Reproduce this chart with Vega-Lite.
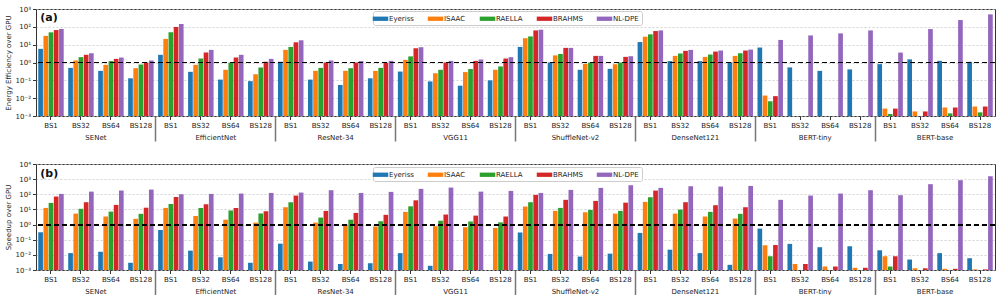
{
  "$schema": "https://vega.github.io/schema/vega-lite/v6.json",
  "padding": {"left": 3, "top": 4, "right": 3, "bottom": 2},
  "spacing": 16,
  "datasets": {
    "ee": [
      {"m":"SENet","k":"SENet|BS1","Eyeriss":5.8,"ISAAC":31,"RAELLA":49,"BRAHMS":66,"NL-DPE":76},
      {"m":"SENet","k":"SENet|BS32","Eyeriss":0.5,"ISAAC":1.3,"RAELLA":2.0,"BRAHMS":2.7,"NL-DPE":3.3},
      {"m":"SENet","k":"SENet|BS64","Eyeriss":0.34,"ISAAC":0.74,"RAELLA":1.2,"BRAHMS":1.6,"NL-DPE":1.9},
      {"m":"SENet","k":"SENet|BS128","Eyeriss":0.13,"ISAAC":0.48,"RAELLA":0.77,"BRAHMS":1.0,"NL-DPE":1.3},
      {"m":"EfficientNet","k":"EfficientNet|BS1","Eyeriss":2.7,"ISAAC":21,"RAELLA":49,"BRAHMS":97,"NL-DPE":144},
      {"m":"EfficientNet","k":"EfficientNet|BS32","Eyeriss":0.3,"ISAAC":0.74,"RAELLA":1.7,"BRAHMS":3.6,"NL-DPE":5.1},
      {"m":"EfficientNet","k":"EfficientNet|BS64","Eyeriss":0.11,"ISAAC":0.39,"RAELLA":0.96,"BRAHMS":1.9,"NL-DPE":2.7},
      {"m":"EfficientNet","k":"EfficientNet|BS128","Eyeriss":0.09,"ISAAC":0.22,"RAELLA":0.53,"BRAHMS":1.1,"NL-DPE":1.6},
      {"m":"ResNet-34","k":"ResNet-34|BS1","Eyeriss":1.1,"ISAAC":5.1,"RAELLA":7.5,"BRAHMS":13.6,"NL-DPE":17.6},
      {"m":"ResNet-34","k":"ResNet-34|BS32","Eyeriss":0.11,"ISAAC":0.34,"RAELLA":0.5,"BRAHMS":1.0,"NL-DPE":1.3},
      {"m":"ResNet-34","k":"ResNet-34|BS64","Eyeriss":0.055,"ISAAC":0.34,"RAELLA":0.48,"BRAHMS":1.0,"NL-DPE":1.2},
      {"m":"ResNet-34","k":"ResNet-34|BS128","Eyeriss":0.13,"ISAAC":0.34,"RAELLA":0.5,"BRAHMS":0.96,"NL-DPE":1.24},
      {"m":"VGG11","k":"VGG11|BS1","Eyeriss":0.31,"ISAAC":1.4,"RAELLA":2.2,"BRAHMS":6.3,"NL-DPE":7.2},
      {"m":"VGG11","k":"VGG11|BS32","Eyeriss":0.087,"ISAAC":0.25,"RAELLA":0.39,"BRAHMS":1.0,"NL-DPE":1.24},
      {"m":"VGG11","k":"VGG11|BS64","Eyeriss":0.05,"ISAAC":0.29,"RAELLA":0.43,"BRAHMS":1.24,"NL-DPE":1.47},
      {"m":"VGG11","k":"VGG11|BS128","Eyeriss":0.1,"ISAAC":0.39,"RAELLA":0.6,"BRAHMS":1.67,"NL-DPE":2.0},
      {"m":"ShuffleNet-v2","k":"ShuffleNet-v2|BS1","Eyeriss":7.5,"ISAAC":23,"RAELLA":29,"BRAHMS":63,"NL-DPE":69},
      {"m":"ShuffleNet-v2","k":"ShuffleNet-v2|BS32","Eyeriss":1.0,"ISAAC":2.5,"RAELLA":3.0,"BRAHMS":6.6,"NL-DPE":6.6},
      {"m":"ShuffleNet-v2","k":"ShuffleNet-v2|BS64","Eyeriss":0.39,"ISAAC":0.84,"RAELLA":1.0,"BRAHMS":2.35,"NL-DPE":2.35},
      {"m":"ShuffleNet-v2","k":"ShuffleNet-v2|BS128","Eyeriss":0.44,"ISAAC":0.8,"RAELLA":1.0,"BRAHMS":2.07,"NL-DPE":2.25},
      {"m":"DenseNet121","k":"DenseNet121|BS1","Eyeriss":14,"ISAAC":28,"RAELLA":38,"BRAHMS":58,"NL-DPE":63},
      {"m":"DenseNet121","k":"DenseNet121|BS32","Eyeriss":1.2,"ISAAC":2.35,"RAELLA":3.2,"BRAHMS":4.5,"NL-DPE":5.1},
      {"m":"DenseNet121","k":"DenseNet121|BS64","Eyeriss":1.2,"ISAAC":2.07,"RAELLA":2.8,"BRAHMS":4.1,"NL-DPE":4.7},
      {"m":"DenseNet121","k":"DenseNet121|BS128","Eyeriss":1.04,"ISAAC":2.35,"RAELLA":3.3,"BRAHMS":4.7,"NL-DPE":5.3},
      {"m":"BERT-tiny","k":"BERT-tiny|BS1","Eyeriss":6.9,"ISAAC":0.014,"RAELLA":0.0067,"BRAHMS":0.013,"NL-DPE":18.4},
      {"m":"BERT-tiny","k":"BERT-tiny|BS32","Eyeriss":0.53,"ISAAC":null,"RAELLA":null,"BRAHMS":null,"NL-DPE":33},
      {"m":"BERT-tiny","k":"BERT-tiny|BS64","Eyeriss":0.34,"ISAAC":null,"RAELLA":null,"BRAHMS":null,"NL-DPE":43},
      {"m":"BERT-tiny","k":"BERT-tiny|BS128","Eyeriss":0.41,"ISAAC":null,"RAELLA":null,"BRAHMS":null,"NL-DPE":63},
      {"m":"BERT-base","k":"BERT-base|BS1","Eyeriss":0.81,"ISAAC":0.0026,"RAELLA":0.0013,"BRAHMS":0.0026,"NL-DPE":3.6},
      {"m":"BERT-base","k":"BERT-base|BS32","Eyeriss":1.5,"ISAAC":0.0018,"RAELLA":null,"BRAHMS":0.0018,"NL-DPE":75},
      {"m":"BERT-base","k":"BERT-base|BS64","Eyeriss":1.24,"ISAAC":0.003,"RAELLA":0.0014,"BRAHMS":0.003,"NL-DPE":240},
      {"m":"BERT-base","k":"BERT-base|BS128","Eyeriss":1.09,"ISAAC":0.0034,"RAELLA":0.0016,"BRAHMS":0.0034,"NL-DPE":500}
    ],
    "sp": [
      {"m":"SENet","k":"SENet|BS1","Eyeriss":0.31,"ISAAC":12.6,"RAELLA":27,"BRAHMS":71,"NL-DPE":106},
      {"m":"SENet","k":"SENet|BS32","Eyeriss":0.013,"ISAAC":5.3,"RAELLA":11,"BRAHMS":30,"NL-DPE":150},
      {"m":"SENet","k":"SENet|BS64","Eyeriss":0.016,"ISAAC":3.4,"RAELLA":7.2,"BRAHMS":20,"NL-DPE":177},
      {"m":"SENet","k":"SENet|BS128","Eyeriss":0.003,"ISAAC":2.4,"RAELLA":5.1,"BRAHMS":13,"NL-DPE":205},
      {"m":"EfficientNet","k":"EfficientNet|BS1","Eyeriss":0.44,"ISAAC":12.6,"RAELLA":23,"BRAHMS":67,"NL-DPE":101},
      {"m":"EfficientNet","k":"EfficientNet|BS32","Eyeriss":0.019,"ISAAC":3.7,"RAELLA":12.6,"BRAHMS":22,"NL-DPE":106},
      {"m":"EfficientNet","k":"EfficientNet|BS64","Eyeriss":0.0069,"ISAAC":2.1,"RAELLA":8.4,"BRAHMS":12.6,"NL-DPE":112},
      {"m":"EfficientNet","k":"EfficientNet|BS128","Eyeriss":0.003,"ISAAC":1.35,"RAELLA":5.3,"BRAHMS":7.6,"NL-DPE":123},
      {"m":"ResNet-34","k":"ResNet-34|BS1","Eyeriss":0.055,"ISAAC":14,"RAELLA":30,"BRAHMS":82,"NL-DPE":130},
      {"m":"ResNet-34","k":"ResNet-34|BS32","Eyeriss":0.0036,"ISAAC":1.35,"RAELLA":2.9,"BRAHMS":8.0,"NL-DPE":186},
      {"m":"ResNet-34","k":"ResNet-34|BS64","Eyeriss":0.0025,"ISAAC":1.0,"RAELLA":2.1,"BRAHMS":5.9,"NL-DPE":123},
      {"m":"ResNet-34","k":"ResNet-34|BS128","Eyeriss":0.0028,"ISAAC":0.74,"RAELLA":1.66,"BRAHMS":4.4,"NL-DPE":144},
      {"m":"VGG11","k":"VGG11|BS1","Eyeriss":0.013,"ISAAC":6.9,"RAELLA":16,"BRAHMS":40,"NL-DPE":228},
      {"m":"VGG11","k":"VGG11|BS32","Eyeriss":0.0019,"ISAAC":0.78,"RAELLA":1.8,"BRAHMS":4.6,"NL-DPE":278},
      {"m":"VGG11","k":"VGG11|BS64","Eyeriss":null,"ISAAC":0.67,"RAELLA":1.6,"BRAHMS":3.9,"NL-DPE":150},
      {"m":"VGG11","k":"VGG11|BS128","Eyeriss":null,"ISAAC":0.6,"RAELLA":1.4,"BRAHMS":3.4,"NL-DPE":167},
      {"m":"ShuffleNet-v2","k":"ShuffleNet-v2|BS1","Eyeriss":0.3,"ISAAC":15.5,"RAELLA":30,"BRAHMS":91,"NL-DPE":123},
      {"m":"ShuffleNet-v2","k":"ShuffleNet-v2|BS32","Eyeriss":0.0115,"ISAAC":8.0,"RAELLA":12.6,"BRAHMS":43,"NL-DPE":195},
      {"m":"ShuffleNet-v2","k":"ShuffleNet-v2|BS64","Eyeriss":0.0077,"ISAAC":6.5,"RAELLA":9.3,"BRAHMS":36.6,"NL-DPE":265},
      {"m":"ShuffleNet-v2","k":"ShuffleNet-v2|BS128","Eyeriss":0.012,"ISAAC":5.3,"RAELLA":8.0,"BRAHMS":28,"NL-DPE":396},
      {"m":"DenseNet121","k":"DenseNet121|BS1","Eyeriss":0.28,"ISAAC":31.5,"RAELLA":64,"BRAHMS":176,"NL-DPE":265},
      {"m":"DenseNet121","k":"DenseNet121|BS32","Eyeriss":0.022,"ISAAC":5.3,"RAELLA":9.8,"BRAHMS":30,"NL-DPE":340},
      {"m":"DenseNet121","k":"DenseNet121|BS64","Eyeriss":0.013,"ISAAC":3.4,"RAELLA":6.9,"BRAHMS":19,"NL-DPE":325},
      {"m":"DenseNet121","k":"DenseNet121|BS128","Eyeriss":0.0022,"ISAAC":2.5,"RAELLA":5.1,"BRAHMS":14,"NL-DPE":356},
      {"m":"BERT-tiny","k":"BERT-tiny|BS1","Eyeriss":0.54,"ISAAC":0.043,"RAELLA":0.0081,"BRAHMS":0.045,"NL-DPE":43},
      {"m":"BERT-tiny","k":"BERT-tiny|BS32","Eyeriss":0.053,"ISAAC":0.0025,"RAELLA":null,"BRAHMS":0.0025,"NL-DPE":82},
      {"m":"BERT-tiny","k":"BERT-tiny|BS64","Eyeriss":0.032,"ISAAC":0.0017,"RAELLA":null,"BRAHMS":0.0017,"NL-DPE":112},
      {"m":"BERT-tiny","k":"BERT-tiny|BS128","Eyeriss":0.037,"ISAAC":0.0014,"RAELLA":null,"BRAHMS":0.0014,"NL-DPE":186},
      {"m":"BERT-base","k":"BERT-base|BS1","Eyeriss":0.02,"ISAAC":0.0081,"RAELLA":0.0017,"BRAHMS":0.0081,"NL-DPE":87},
      {"m":"BERT-base","k":"BERT-base|BS32","Eyeriss":0.0049,"ISAAC":0.0013,"RAELLA":null,"BRAHMS":0.0013,"NL-DPE":465},
      {"m":"BERT-base","k":"BERT-base|BS64","Eyeriss":0.013,"ISAAC":0.0012,"RAELLA":null,"BRAHMS":0.0012,"NL-DPE":850},
      {"m":"BERT-base","k":"BERT-base|BS128","Eyeriss":0.006,"ISAAC":0.0011,"RAELLA":null,"BRAHMS":0.0011,"NL-DPE":1550}
    ]
  },
  "vconcat": [
    {
      "width": 959,
      "height": 107,
      "data": {"name": "ee"},
      "transform": [{"fold": ["Eyeriss", "ISAAC", "RAELLA", "BRAHMS", "NL-DPE"], "as": ["s", "v"]}],
      "layer": [
        {
          "encoding": {
            "x": {"field": "k", "type": "nominal", "sort": null, "scale": {"paddingInner": 0.15, "paddingOuter": 0.075},
              "axis": {"title": null, "labelExpr": "split(datum.value, '|')[1]", "labelAngle": 0, "domain": false, "tickSize": 3.5, "labelPadding": 2, "grid": false}},
            "y": {"field": "v", "type": "quantitative", "scale": {"type": "log", "domain": [0.001, 1000]},
              "axis": {"title": "Energy Efficiency over GPU", "values": [0.001, 0.01, 0.1, 1, 10, 100, 1000],
                "labelExpr": "datum.value==1000?'10³':datum.value==100?'10²':datum.value==10?'10¹':datum.value==1?'10⁰':datum.value==0.1?'10⁻¹':datum.value==0.01?'10⁻²':'10⁻³'"}}
          },
          "layer": [
            {
              "mark": {"type": "bar"},
              "encoding": {
                "xOffset": {"field": "s", "type": "nominal", "scale": {"domain": ["Eyeriss", "ISAAC", "RAELLA", "BRAHMS", "NL-DPE"], "paddingInner": 0.1}},
                "y2": {"datum": 0.001},
                "color": {"field": "s", "type": "nominal", "scale": {"domain": ["Eyeriss", "ISAAC", "RAELLA", "BRAHMS", "NL-DPE"], "range": ["#1f77b4", "#ff7f0e", "#2ca02c", "#d62728", "#9467bd"]},
                  "legend": {"title": null, "orient": "none", "legendX": 337, "legendY": 2, "direction": "horizontal", "columns": 5}}
              }
            },
            {
              "transform": [{"filter": "datum.k === 'SENet|BS1' && datum.s === 'Eyeriss'"}],
              "mark": {"type": "text", "text": "(a)", "align": "left", "baseline": "middle", "dx": 2, "font": "DejaVu Sans", "fontSize": 11, "fontWeight": "bold", "color": "#111"},
              "encoding": {"x": {"field": "k", "type": "nominal", "bandPosition": 0}, "y": {"datum": 295}}
            }
          ]
        },
        {
          "mark": {"type": "rule", "strokeDash": [5, 3], "color": "black", "strokeWidth": 1.2},
          "encoding": {"y": {"datum": 1}}
        },
        {
          "mark": {"type": "rule", "opacity": 0},
          "encoding": {
            "x": {"field": "m", "type": "nominal", "sort": ["SENet", "EfficientNet", "ResNet-34", "VGG11", "ShuffleNet-v2", "DenseNet121", "BERT-tiny", "BERT-base"], "scale": {"paddingInner": 0, "paddingOuter": 0},
              "axis": {"orient": "bottom", "title": null, "labelAngle": 0, "domain": false, "grid": false, "bandPosition": 0, "tickSize": 25, "tickWidth": 1.5, "tickColor": "#777", "tickOpacity": {"condition": {"test": "datum.value === 'SENet'", "value": 0}, "value": 1}, "labelOffset": 0, "labelPadding": -8}}
          }
        }
      ],
      "resolve": {"scale": {"x": "independent"}}
    },
    {
      "width": 959,
      "height": 106,
      "data": {"name": "sp"},
      "transform": [{"fold": ["Eyeriss", "ISAAC", "RAELLA", "BRAHMS", "NL-DPE"], "as": ["s", "v"]}],
      "layer": [
        {
          "encoding": {
            "x": {"field": "k", "type": "nominal", "sort": null, "scale": {"paddingInner": 0.15, "paddingOuter": 0.075},
              "axis": {"title": null, "labelExpr": "split(datum.value, '|')[1]", "labelAngle": 0, "domain": false, "tickSize": 3.5, "labelPadding": 2, "grid": false}},
            "y": {"field": "v", "type": "quantitative", "scale": {"type": "log", "domain": [0.001, 10000]},
              "axis": {"title": "Speedup over GPU", "values": [0.001, 0.01, 0.1, 1, 10, 100, 1000, 10000],
                "labelExpr": "datum.value==10000?'10⁴':datum.value==1000?'10³':datum.value==100?'10²':datum.value==10?'10¹':datum.value==1?'10⁰':datum.value==0.1?'10⁻¹':datum.value==0.01?'10⁻²':'10⁻³'"}}
          },
          "layer": [
            {
              "mark": {"type": "bar"},
              "encoding": {
                "xOffset": {"field": "s", "type": "nominal", "scale": {"domain": ["Eyeriss", "ISAAC", "RAELLA", "BRAHMS", "NL-DPE"], "paddingInner": 0.1}},
                "y2": {"datum": 0.001},
                "color": {"field": "s", "type": "nominal", "scale": {"domain": ["Eyeriss", "ISAAC", "RAELLA", "BRAHMS", "NL-DPE"], "range": ["#1f77b4", "#ff7f0e", "#2ca02c", "#d62728", "#9467bd"]},
                  "legend": {"title": null, "orient": "none", "legendX": 337, "legendY": 3, "direction": "horizontal", "columns": 5}}
              }
            },
            {
              "transform": [{"filter": "datum.k === 'SENet|BS1' && datum.s === 'Eyeriss'"}],
              "mark": {"type": "text", "text": "(b)", "align": "left", "baseline": "middle", "dx": 2, "font": "DejaVu Sans", "fontSize": 11, "fontWeight": "bold", "color": "#111"},
              "encoding": {"x": {"field": "k", "type": "nominal", "bandPosition": 0}, "y": {"datum": 2350}}
            }
          ]
        },
        {
          "mark": {"type": "rule", "strokeDash": [5, 3], "color": "black", "strokeWidth": 1.2},
          "encoding": {"y": {"datum": 1}}
        },
        {
          "mark": {"type": "rule", "opacity": 0},
          "encoding": {
            "x": {"field": "m", "type": "nominal", "sort": ["SENet", "EfficientNet", "ResNet-34", "VGG11", "ShuffleNet-v2", "DenseNet121", "BERT-tiny", "BERT-base"], "scale": {"paddingInner": 0, "paddingOuter": 0},
              "axis": {"orient": "bottom", "title": null, "labelAngle": 0, "domain": false, "grid": false, "bandPosition": 0, "tickSize": 25, "tickWidth": 1.5, "tickColor": "#777", "tickOpacity": {"condition": {"test": "datum.value === 'SENet'", "value": 0}, "value": 1}, "labelOffset": 0, "labelPadding": -8}}
          }
        }
      ],
      "resolve": {"scale": {"x": "independent"}}
    }
  ],
  "resolve": {"legend": {"color": "independent"}, "scale": {"color": "independent"}},
  "config": {
    "view": {"stroke": "#333", "strokeWidth": 1},
    "axis": {"labelFont": "DejaVu Sans", "labelFontSize": 7, "labelColor": "#222", "tickColor": "#333", "titleFont": "DejaVu Sans", "titleFontSize": 7, "titleFontWeight": "normal", "titleColor": "#222", "titlePadding": 4},
    "axisY": {"grid": true, "gridColor": "#c8c8c8", "gridDash": [2, 2], "gridWidth": 0.8, "tickSize": 3.5, "labelPadding": 2, "domain": false},
    "legend": {"labelFont": "DejaVu Sans", "labelFontSize": 7, "labelColor": "#222", "symbolType": "M-1.8,-0.5L1.8,-0.5L1.8,0.5L-1.8,0.5Z", "symbolSize": 74, "symbolStrokeWidth": 0, "labelOffset": 4, "columnPadding": 13, "padding": 3, "strokeColor": "#ccc", "fillColor": "white", "cornerRadius": 2}
  }
}
